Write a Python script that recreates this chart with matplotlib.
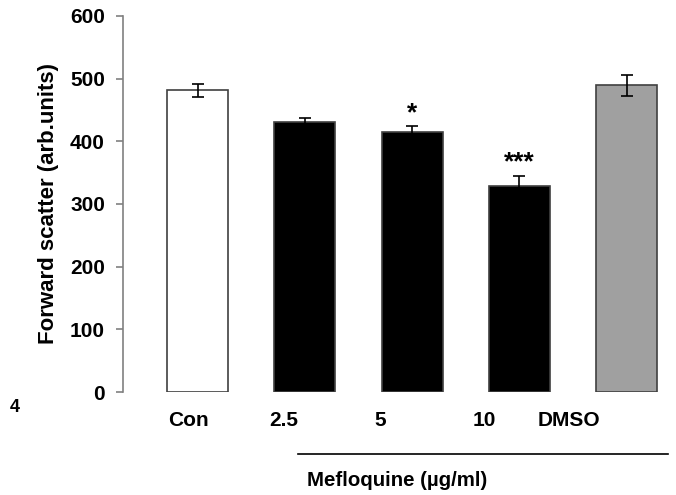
import matplotlib
matplotlib.use("Agg")
from matplotlib import pyplot as plt

groups = ["Con", "2.5", "5", "10", "DMSO"]
means = [481, 431, 414, 328, 489]
errs = [10, 6, 10, 17, 17]
colors = ["white", "black", "black", "black", "#a0a0a0"]
stars = ["", "", "*", "***", ""]
yticks = [0, 100, 200, 300, 400, 500, 600]

plt.rcParams['font.family'] = ['Liberation Sans', 'DejaVu Sans']
plt.rcParams['font.weight'] = 'bold'

fig = plt.figure(figsize=(6.76, 4.95), dpi=100)
ax = fig.add_axes([0.182, 0.208, 0.81, 0.76])

xs = list(range(len(groups)))
ax.bar(xs, means, width=0.57, color=colors, edgecolor="#404040", linewidth=1.2, zorder=2)
ax.errorbar(xs, means, yerr=errs, fmt="none", ecolor="black", elinewidth=1.2,
            capsize=4, capthick=1.2, zorder=3)
for x, m, e, s in zip(xs, means, errs, stars):
	if s:
		ax.text(x, m + e + 2, s, ha="center", va="bottom", fontsize=19, fontweight="bold")

ax.set_xlim(-0.696, 4.41)
ax.set_ylim(0, 600)
ax.set_yticks(yticks)
ax.tick_params(axis="y", direction="out", length=5, width=1.2, color="#808080", labelsize=15, pad=8)
for lab in ax.get_yticklabels():
	lab.set_fontweight("bold")

# labels sit a bit left of the bars in the original
label_shift = [-0.09, -0.2, -0.3, -0.33, -0.54]
ax.set_xticks([x + d for x, d in zip(xs, label_shift)])
ax.set_xticklabels(groups, fontsize=15, fontweight="bold")
ax.tick_params(axis="x", length=0, pad=14)

for sp in ["top", "right", "bottom"]:
	ax.spines[sp].set_visible(False)
ax.spines["left"].set_color("#808080")
ax.spines["left"].set_linewidth(1.2)

ax.set_ylabel("Forward scatter (arb.units)", fontsize=16, fontweight="bold", labelpad=8)

# mefloquine bracket
fig.add_artist(plt.Line2D([298/676, 668/676], [1-454/495, 1-454/495], color="black", linewidth=1.2))
fig.text(397/676, 1-480/495, "Mefloquine (µg/ml)", ha="center", va="center", fontsize=14.7, fontweight="bold")
fig.text(15/676, 1-408/495, "4", ha="center", va="center", fontsize=13, fontweight="bold")

fig.savefig("out.png", dpi=100)
